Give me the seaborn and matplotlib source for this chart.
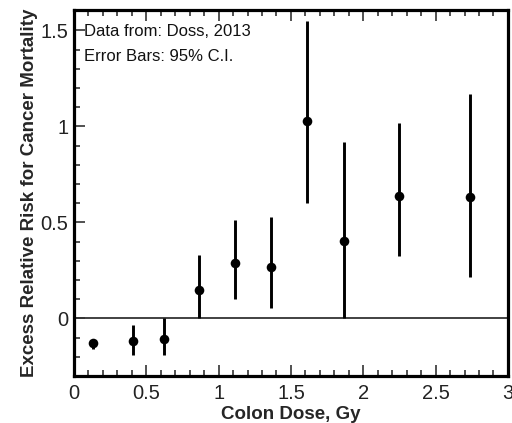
import matplotlib
matplotlib.use("Agg")
import matplotlib.pyplot as plt
import seaborn as sns
import pandas as pd
from matplotlib.ticker import MultipleLocator

dose = [0.13, 0.41, 0.62, 0.865, 1.11, 1.36, 1.61, 1.87, 2.25, 2.74]
err = [-0.13, -0.12, -0.105, 0.15, 0.29, 0.27, 1.03, 0.405, 0.635, 0.63]
ci_low = [-0.16, -0.19, -0.19, 0.0, 0.10, 0.055, 0.60, 0.0, 0.325, 0.215]
ci_high = [-0.11, -0.035, 0.0, 0.33, 0.51, 0.53, 1.55, 0.92, 1.02, 1.17]
x_ticks = [0, 0.5, 1, 1.5, 2, 2.5, 3]
x_labels = ["0", "0.5", "1", "1.5", "2", "2.5", "3"]
y_ticks = [0, 0.5, 1, 1.5]
y_labels = ["0", "0.5", "1", "1.5"]

df = pd.DataFrame({"dose": dose, "err": err, "lo": ci_low, "hi": ci_high})

sns.set_style("white")
plt.rcParams["font.family"] = ["Liberation Sans", "DejaVu Sans"]

fig = plt.figure(figsize=(5.12, 4.23), dpi=100)
ax = fig.add_axes([0.1445, 0.111, 0.8475, 0.865])

ax.axhline(0, color="#333333", lw=1.3, zorder=1)
ax.vlines(df["dose"], df["lo"], df["hi"], color="black", lw=2.1, zorder=2)
sns.scatterplot(data=df, x="dose", y="err", ax=ax, color="black", s=48,
                edgecolor="black", linewidth=0, zorder=3)

ax.set_xlim(0, 3)
ax.set_ylim(-0.3, 1.605)
ax.set_xticks(x_ticks)
ax.set_xticklabels(x_labels)
ax.set_yticks(y_ticks)
ax.set_yticklabels(y_labels)
ax.xaxis.set_minor_locator(MultipleLocator(0.1))
ax.yaxis.set_minor_locator(MultipleLocator(0.1))
ax.tick_params(which="both", direction="in", top=True, right=False,
               bottom=True, left=True, color="#333333", width=1.2,
               labelsize=14.5, labelcolor="#222222")
ax.tick_params(which="major", length=8, pad=4)
ax.tick_params(axis="x", which="major", pad=6)
ax.tick_params(which="minor", length=4.5)

for s in ax.spines.values():
    s.set_color("black")
    s.set_linewidth(2.3)

ax.set_xlabel("Colon Dose, Gy", fontsize=13.5, fontweight="bold", labelpad=2)
ax.set_ylabel("Excess Relative Risk for Cancer Mortality", fontsize=13.5,
              fontweight="bold", labelpad=2)

ax.text(0.024, 0.942, "Data from: Doss, 2013", transform=ax.transAxes,
        fontsize=12, va="center", ha="left", color="#111111")
ax.text(0.024, 0.874, "Error Bars: 95% C.I.", transform=ax.transAxes,
        fontsize=12, va="center", ha="left", color="#111111")

fig.savefig("out.png", dpi=100)
